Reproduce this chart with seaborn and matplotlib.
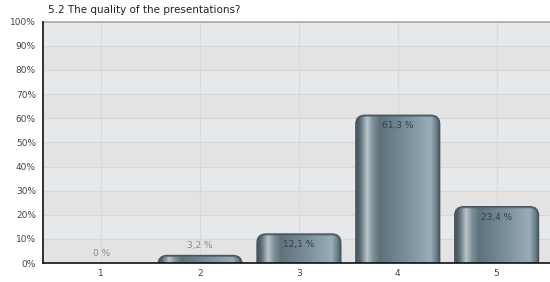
import matplotlib
matplotlib.use('Agg')
import matplotlib.pyplot as plt
import seaborn as sns
import numpy as np
import pandas as pd
from matplotlib.patches import FancyBboxPatch
from matplotlib.colors import LinearSegmentedColormap

title = "5.2 The quality of the presentations?"
categories = ["1", "2", "3", "4", "5"]
values = [0, 3.2, 12.1, 61.3, 23.4]
labels = ["0 %", "3,2 %", "12,1 %", "61,3 %", "23,4 %"]

df = pd.DataFrame({"answer": categories, "share": values})

sns.set_style("white")
plt.rcParams['font.family'] = ['DejaVu Sans']

fig = plt.figure(figsize=(5.5, 2.82), dpi=100)
ax = fig.add_axes([0.078, 0.067, 0.922, 0.856])

sns.barplot(data=df, x="answer", y="share", ax=ax, width=0.85, color="#6f8590")
bars = list(ax.patches)

ax.set_xlim(-0.59, 4.54)
ax.set_ylim(0, 100)

# alternating bands + grid
for i in range(10):
    ax.axhspan(i * 10, i * 10 + 10, color="#e6e9ec" if i % 2 == 1 else "#e3e3e4", zorder=0, lw=0)
for y in range(10, 100, 10):
    ax.axhline(y, color="#d6d6d6", lw=0.8, zorder=0.5)
for x in range(len(categories)):
    ax.axvline(x, color="#d9d9d9", lw=0.8, zorder=0.5)
ax.axhline(100, color="#a8a8a8", lw=1.2, zorder=1, clip_on=False)

# gradient bars with rounded tops
grad = LinearSegmentedColormap.from_list("bar", [
    (0.0, "#3f4e57"), (0.05, "#5c6d76"), (0.13, "#b9c5ca"), (0.2, "#7d8f98"),
    (0.28, "#5f727c"), (0.6, "#7a909b"), (0.88, "#98adb7"), (0.95, "#6a7e88"),
    (1.0, "#3f4e57")])
img = np.linspace(0, 1, 256).reshape(1, -1)
px_x = 0.922 * 550 / 5.13
px_y = 0.856 * 282 / 100
r = 9.0
for bar in bars:
    x0, w, h = bar.get_x(), bar.get_width(), bar.get_height()
    bar.remove()
    if h <= 0:
        continue
    rx = r / px_x
    ry = r / px_y
    patch = FancyBboxPatch((x0, -ry), w, h + ry,
                           boxstyle=f"round,pad=0,rounding_size={rx}",
                           mutation_aspect=ry / rx, transform=ax.transData,
                           facecolor="none", edgecolor="#44535c", lw=0.8, zorder=3)
    ax.add_patch(patch)
    im = ax.imshow(img, cmap=grad, aspect="auto", extent=(x0, x0 + w, -ry, h),
                   zorder=2.5, interpolation="bilinear")
    im.set_clip_path(patch)
    # darker top rim
    top = FancyBboxPatch((x0, -ry), w, h + ry,
                         boxstyle=f"round,pad=0,rounding_size={rx}",
                         mutation_aspect=ry / rx, facecolor="none",
                         edgecolor="#4f5f68", lw=2.4, zorder=2.8, alpha=0.7)
    ax.add_patch(top)
    top.set_clip_path(patch)

ax.set_xlim(-0.59, 4.54)
ax.set_ylim(0, 100)

for i, (v, lab) in enumerate(zip(values, labels)):
    if v >= 10:
        ax.text(i, v - 4.5, lab, ha="center", va="center", fontsize=6.5, color="#3a3f44", zorder=5)
    else:
        ax.text(i, v + 4, lab, ha="center", va="center", fontsize=6.5, color="#8a8a8a", zorder=5)

ax.set_yticks(range(0, 101, 10))
ax.set_yticklabels([f"{t}%" for t in range(0, 101, 10)])
ax.tick_params(axis="both", labelsize=6.5, labelcolor="#444444", length=3, width=0.8,
               direction="out", color="#222222", pad=2)
ax.tick_params(axis="x", length=2)
ax.set_xlabel("")
ax.set_ylabel("")
for s in ["top", "right"]:
    ax.spines[s].set_visible(False)
ax.spines["left"].set_color("#111111")
ax.spines["bottom"].set_color("#111111")
ax.spines["left"].set_linewidth(1.2)
ax.spines["bottom"].set_linewidth(1.2)
ax.spines["left"].set_zorder(6)
ax.spines["bottom"].set_zorder(6)

fig.text(0.087, 0.983, title, ha="left", va="top", fontsize=7.5, color="#222222")

fig.savefig("out.png", dpi=100)
